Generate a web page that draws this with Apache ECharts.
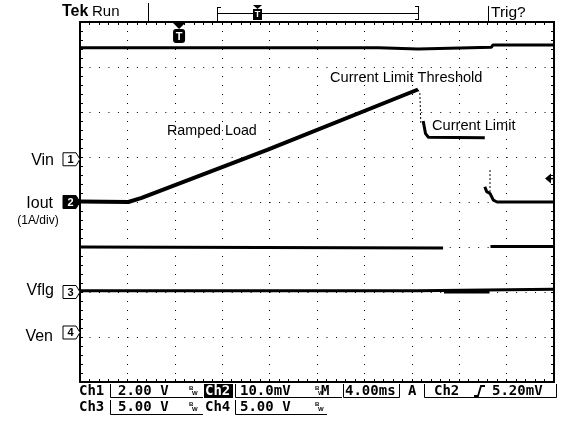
<!DOCTYPE html>
<html><head><meta charset="utf-8">
<script src="https://cdn.jsdelivr.net/npm/echarts/dist/echarts.min.js"></script>
<style>html,body{margin:0;padding:0;background:#fff}#c{width:563px;height:424px}</style>
</head><body><div id="c"></div>
<script>
// Screen is 10 horizontal divisions (4.00 ms/div) by 8 vertical divisions (-4..4).
// All traces are given as [time in divisions, level in divisions].
const xDivisions = [0, 10];
const yDivisions = [-4, 4];

// Ch1 (Vin, 2.00 V/div)
const ch1Vin = [[0,3.43],[6.3,3.43],[6.33,3.40],[7.13,3.40],[7.15,3.44],[8.68,3.44],[8.71,3.49],[10,3.49]];
// Ch2 (Iout, 10.0 mV/div = 1 A/div)
const ch2Ramp = [[0,0.01],[1.02,0],[1.3,0.09],[3.95,1.16],[7.13,2.50]];
const ch2DropSpike = [[7.13,2.50],[7.17,2.42],[7.19,1.76]];
const ch2Limit = [[7.24,1.80],[7.29,1.52],[7.35,1.44],[8.54,1.43]];
const ch2RecoverSpike = [[8.65,0.71],[8.65,0.22]];
const ch2After = [[8.54,0.34],[8.58,0.23],[8.65,0.19],[8.72,0.04],[8.8,0],[10,0]];
// Ch3 (Vflg, 5.00 V/div)
const ch3High1 = [[0,-1.0],[7.66,-1.02]];
const ch3Low = [[7.68,-2.0],[8.64,-2.0]];
const ch3High2 = [[8.66,-0.99],[10,-0.99]];
// Ch4 (Ven, 5.00 V/div)
const ch4Ven = [[0,-1.97],[7.12,-1.97],[7.14,-1.94],[10,-1.94]];

// Channel ground markers (level in divisions)
const chLabels = ['Vin','Iout','Vflg','Ven'];
const chNumbers = ['1','2','3','4'];
const chLevels = [0.95, 0, -2.0, -2.9];
const triggerTime = 2.09;      // divisions
const triggerLevel = 0.52;     // divisions (5.20 mV on Ch2)

const chart = echarts.init(document.getElementById('c'), null, {renderer:'canvas'});

function axisCommon(pos, isX){
  return {
    type:'value', position:pos,
    min: isX ? xDivisions[0] : yDivisions[0],
    max: isX ? xDivisions[1] : yDivisions[1],
    interval:1,
    axisLine:{show:true, onZero:false, lineStyle:{color:'#000', width:2}},
    axisTick:{show:true, inside:true, length:3, lineStyle:{color:'#000', width:1}},
    minorTick:{show:true, splitNumber:5, length:3, lineStyle:{color:'#000', width:1}},
    axisLabel:{show:false},
    splitLine:{show:false}
  };
}
const xMain = axisCommon('bottom', true);
xMain.splitLine = {show:true, lineStyle:{color:'#000', width:1, type:[1, 8]}};
const yMain = axisCommon('left', false);
yMain.splitLine = {show:true, lineStyle:{color:'#000', width:1, type:[1, 8.48]}};

function seg(data, w, dashed){
  return {type:'line', data:data, showSymbol:false, symbol:'none', animation:false, silent:true,
    xAxisIndex:0, yAxisIndex:0,
    lineStyle:{color:'#000', width:w, type: dashed ? [2,2] : 'solid'}};
}

chart.setOption({
  backgroundColor:'#fff',
  animation:false,
  grid:{left:80, top:22, width:474, height:360, containLabel:false},
  xAxis:[xMain, axisCommon('top', true)],
  yAxis:[yMain, axisCommon('right', false)],
  series:[
    seg(ch1Vin, 3),
    seg(ch2Ramp, 4),
    seg(ch2DropSpike, 1, true),
    seg(ch2Limit, 3),
    seg(ch2RecoverSpike, 1, true),
    seg(ch2After, 3),
    seg(ch3High1, 3),
    seg(ch3Low, 3),
    seg(ch3High2, 3),
    seg(ch4Ven, 3)
  ]
});

const F = '"Liberation Sans", Arial, sans-serif';
const M = '"DejaVu Sans Mono", monospace';
const g = [];
function txt(x, y, s, font, opts){
  opts = opts || {};
  g.push({type:'text', silent:true, z:100, style:{text:s, x:x, y:y, font:font, fill:opts.fill||'#000',
    textAlign:opts.align||'left', textVerticalAlign:'middle', verticalAlign:'middle'}});
}
function ln(x1,y1,x2,y2,w){
  g.push({type:'line', silent:true, z:100, shape:{x1:x1,y1:y1,x2:x2,y2:y2}, style:{stroke:'#000', lineWidth:w||1}});
}
function poly(pts, fill, stroke){
  g.push({type:'polygon', silent:true, z:100, shape:{points:pts}, style:{fill:fill, stroke:stroke||null, lineWidth:1}});
}
function box(x,y,w,h,fill){
  g.push({type:'rect', silent:true, z:99, shape:{x:x,y:y,width:w,height:h}, style:{fill:fill}});
}
function bw(x, y){
  txt(x, y-3, 'B', 'bold 6px ' + F);
  txt(x+3, y+2, 'W', 'bold 6px ' + F);
}

// channel markers and names
const leftX = chart.convertToPixel({gridIndex:0}, [0, 0])[0];
chLevels.forEach(function(lv, i){
  const y = chart.convertToPixel({gridIndex:0}, [0, lv])[1];
  const x0 = leftX - 17, x1 = leftX - 4, tip = leftX;
  const filled = (i === 1);
  poly([[x0, y-6.5],[x1, y-6.5],[tip, y],[x1, y+6.5],[x0, y+6.5]], filled ? '#000' : '#fff', '#000');
  txt((x0+x1)/2 + 1, y + 0.5, chNumbers[i], 'bold 11px ' + F, {align:'center', fill: filled ? '#fff' : '#000'});
});
function yPix(lv){ return chart.convertToPixel({gridIndex:0}, [0, lv])[1]; }
txt(54, yPix(chLevels[0]) + 1, chLabels[0], '16px ' + F, {align:'right'});
txt(53, yPix(chLevels[1]) + 2, chLabels[1], '16px ' + F, {align:'right'});
txt(38, yPix(chLevels[1]) + 19, '(1A/div)', '12px ' + F, {align:'center'});
txt(54, yPix(chLevels[2]) - 1, chLabels[2], '16px ' + F, {align:'right'});
txt(53, yPix(chLevels[3]) + 4, chLabels[3], '16px ' + F, {align:'right'});

// trigger position marker inside the screen
const tp = chart.convertToPixel({gridIndex:0}, [triggerTime, 4]);
poly([[tp[0]-6, tp[1]+1],[tp[0]+6, tp[1]+1],[tp[0], tp[1]+7]], '#000');
g.push({type:'rect', silent:true, z:100, shape:{x:tp[0]-6, y:tp[1]+7, width:12, height:14, r:3}, style:{fill:'#000'}});
txt(tp[0], tp[1]+14.5, 'T', 'bold 11px ' + F, {align:'center', fill:'#fff'});

// trigger level arrow on the right
const tl = chart.convertToPixel({gridIndex:0}, [10, triggerLevel]);
poly([[tl[0]-9, tl[1]],[tl[0]-3, tl[1]-5],[tl[0]-3, tl[1]+5]], '#000');
ln(tl[0]-3, tl[1], tl[0], tl[1], 1.5);

// annotations
txt(330, 78, 'Current Limit Threshold', '14.6px ' + F);
txt(167, 131, 'Ramped Load', '14.3px ' + F);
txt(432, 126, 'Current Limit', '14.6px ' + F);

// top status bar
txt(62, 12, 'Tek', 'bold 16px ' + F);
txt(92, 12, 'Run', '15px ' + F);
ln(148.5, 3, 148.5, 21);
ln(217.5, 7, 217.5, 21); ln(217.5, 7.5, 221, 7.5);
ln(217.5, 13.5, 418.5, 13.5);
ln(418.5, 6, 418.5, 20); ln(415, 6.5, 418.5, 6.5); ln(415, 19.5, 418.5, 19.5);
poly([[253,5],[262,5],[257.5,9]], '#000');
box(253, 9, 9, 11, '#000');
txt(257.5, 14.5, 'T', 'bold 9px ' + F, {align:'center', fill:'#fff'});
ln(488.5, 6, 488.5, 21);
txt(491, 13, 'Trig?', '15.5px ' + F);

// bottom readouts
const B = 'bold 14px ' + M;
const r1 = 391, r2 = 407;
txt(79, r1, 'Ch1', B);
ln(110.5, 384, 110.5, 397.5); ln(110.5, 397.5, 203, 397.5);
txt(118, r1, '2.00 V', B);
bw(189, r1);
box(204, 384, 29, 14, '#000');
txt(205, r1, 'Ch2', B, {fill:'#fff'});
ln(235.5, 384, 235.5, 397.5); ln(235.5, 397.5, 342, 397.5);
txt(240, r1, '10.0mV', B);
bw(315, r1);
txt(321, r1, 'M', B);
ln(343.5, 384, 343.5, 397.5); ln(343.5, 397.5, 399.5, 397.5); ln(399.5, 384, 399.5, 397.5);
txt(345, r1, '4.00ms', B);
txt(408, r1, 'A', B);
ln(424.5, 384, 424.5, 397.5); ln(424.5, 397.5, 556.5, 397.5); ln(556.5, 384, 556.5, 397.5);
txt(434, r1, 'Ch2', B);
g.push({type:'polyline', silent:true, z:100, shape:{points:[[474,396],[478,396],[481,386],[485,386]]}, style:{stroke:'#000', lineWidth:1.8, fill:null}});
txt(492, r1, '5.20mV', B);

txt(79, r2, 'Ch3', B);
ln(110.5, 400, 110.5, 414.5); ln(110.5, 414.5, 203, 414.5);
txt(118, r2, '5.00 V', B);
bw(189, r2);
txt(205, r2, 'Ch4', B);
ln(235.5, 400, 235.5, 414.5); ln(235.5, 414.5, 327, 414.5);
txt(240, r2, '5.00 V', B);
bw(315, r2);

chart.setOption({graphic:g});
</script>
</body></html>
